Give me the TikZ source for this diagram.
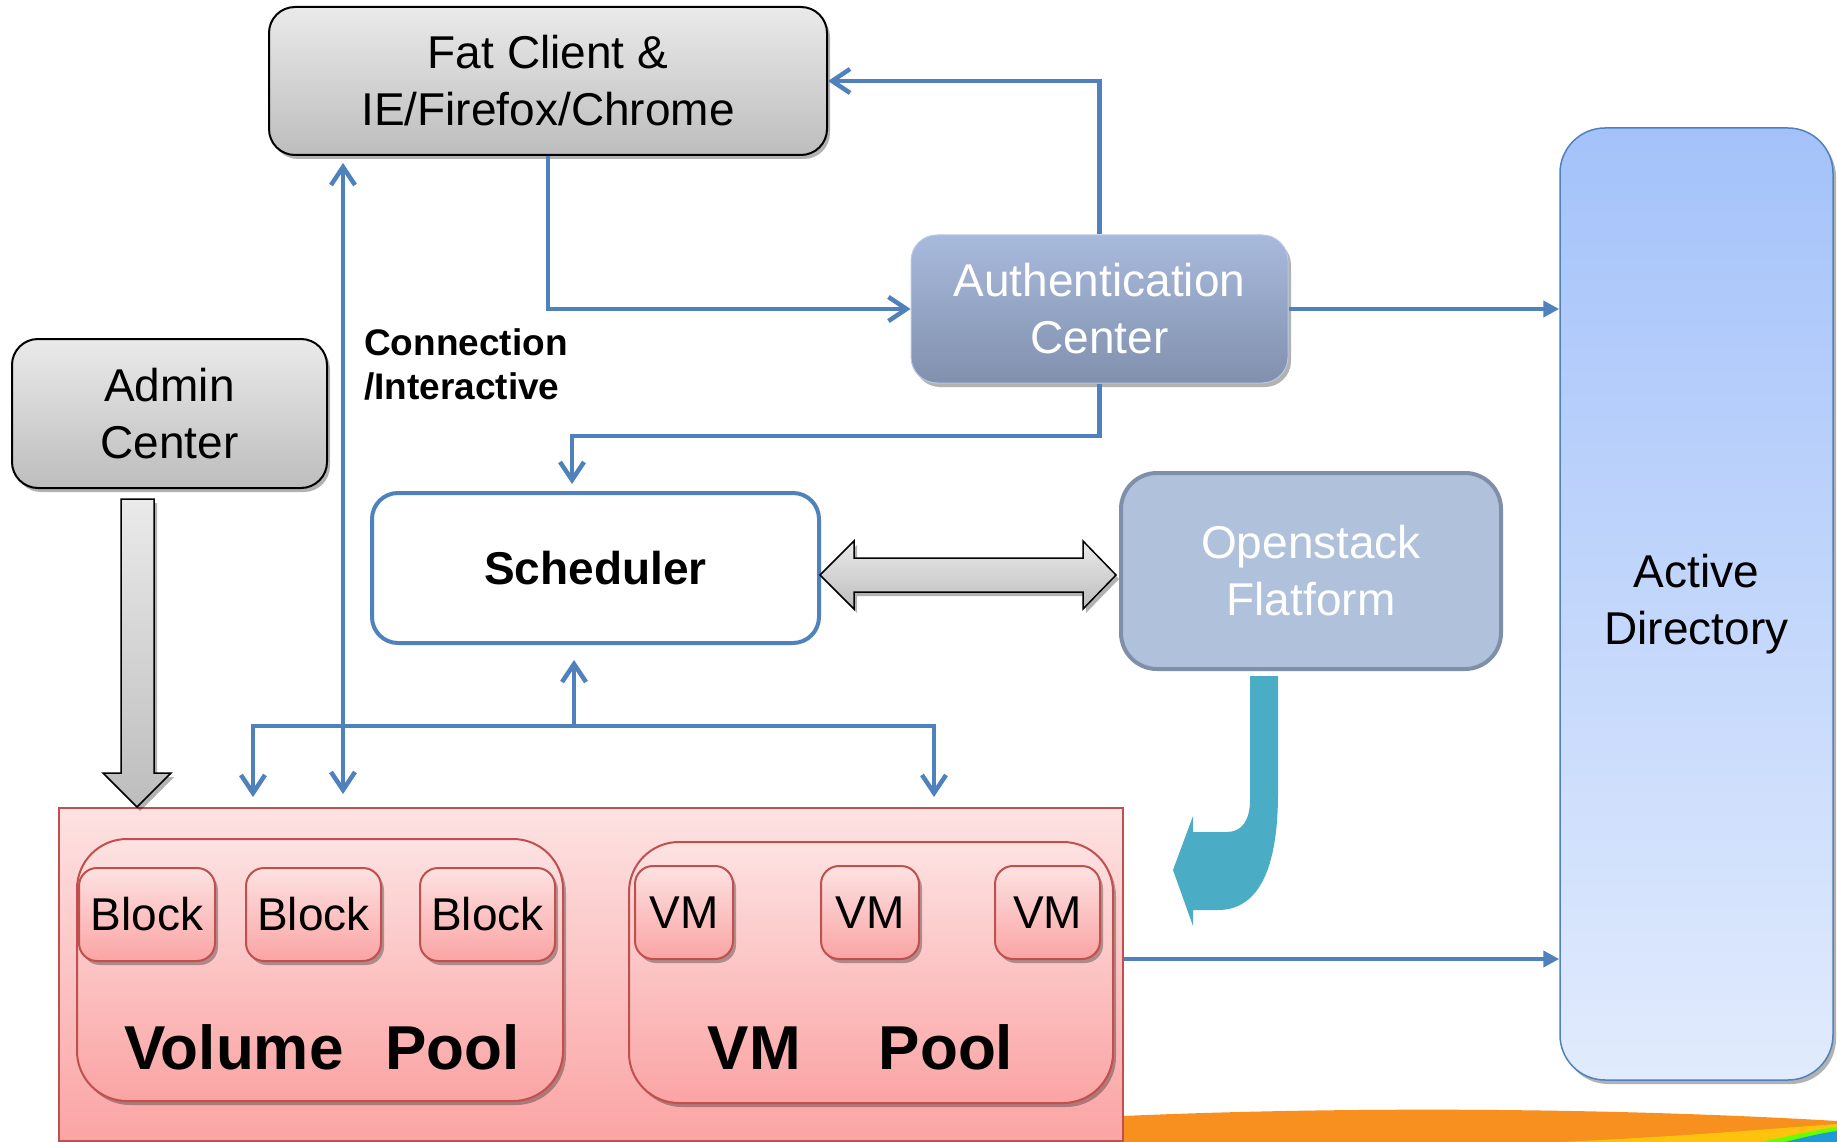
\documentclass[tikz,border=0pt]{standalone}
\usepackage{fontspec}
\setmainfont{Liberation Sans}
\usetikzlibrary{arrows.meta,shadows,calc}
\definecolor{lineblue}{HTML}{4F81BD}
\definecolor{grayT}{HTML}{EAEAEA}
\definecolor{grayB}{HTML}{BDBDBD}
\definecolor{authT}{HTML}{A8BADC}
\definecolor{authB}{HTML}{8190AD}
\definecolor{adT}{HTML}{A4C2FA}
\definecolor{adB}{HTML}{E1EBFD}
\definecolor{openF}{HTML}{B0C1DC}
\definecolor{openD}{HTML}{7F8FA9}
\definecolor{pinkT}{HTML}{FDE2E2}
\definecolor{pinkB}{HTML}{FBA4A4}
\definecolor{redline}{HTML}{C0504D}
\definecolor{teal}{HTML}{4BACC6}
\definecolor{swoosh}{HTML}{F7901E}
\definecolor{swyel}{HTML}{FFC20E}
\definecolor{swblue}{HTML}{1E9BD7}
\tikzset{
  myb/.tip={Straight Barb[length=18pt,width=24pt]},
  myt/.tip={Triangle[length=16pt,width=16pt]},
  txt/.style={font=\fontsize{46}{57}\selectfont, align=center, inner sep=0pt},
  shad/.style={drop shadow={shadow xshift=3pt,shadow yshift=-4pt,fill=black,opacity=0.3}},
  lshad/.style={drop shadow={shadow xshift=2pt,shadow yshift=-3pt,fill=black,opacity=0.15}},
  graybox/.style={txt, rounded corners=26pt, draw=black, line width=2pt, top color=grayT, bottom color=grayB, shad},
  authbox/.style={txt, text=white, rounded corners=26pt, draw=authT!80!white, line width=1pt, top color=authT, bottom color=authB, shad},
  adbox/.style={txt, rounded corners=45pt, draw=lineblue, line width=1.5pt, top color=adT, bottom color=adB, shad},
  schedbox/.style={txt, font=\fontsize{46}{57}\selectfont\bfseries, rounded corners=26pt, draw=lineblue, line width=4pt, fill=white},
  openbox/.style={txt, text=white, rounded corners=36pt, draw=openD, line width=4pt, fill=openF},
  pinkbox/.style={draw=redline, line width=2pt, top color=pinkT, bottom color=pinkB},
  poolbox/.style={rounded corners=50pt, draw=redline, line width=2pt, top color=pinkT, bottom color=pinkB, shad},
  cellbox/.style={txt, rounded corners=18pt, draw=redline, line width=2pt, top color=pinkT, bottom color=pinkB, shad},
  bigtxt/.style={font=\fontsize{62}{70}\selectfont\bfseries, inner sep=0pt, anchor=base},
  lbl/.style={font=\fontsize{37}{44}\selectfont\bfseries, inner sep=0pt, anchor=base west},
  conn/.style={draw=lineblue, line width=4.5pt},
  blockarrow/.style={draw=black, line width=1.5pt, top color=grayT, bottom color=grayB}
}
\begin{document}
\begin{tikzpicture}[x=1pt,y=-1pt]
\useasboundingbox (0,0) rectangle (1837,1142);
\fill[white] (0,0) rectangle (1837,1142);

% bottom swoosh
\fill[swoosh] (1123,1116) .. controls (1350,1106) and (1620,1108) .. (1837,1121) -- (1837,1142) -- (1123,1142) -- cycle;
\fill[swyel] (1560,1142) .. controls (1690,1136) and (1780,1128) .. (1837,1124) -- (1837,1142) -- cycle;
\fill[green!60!yellow] (1760,1142) .. controls (1790,1136) and (1815,1130) .. (1837,1127) -- (1837,1142) -- cycle;
\fill[swblue] (1785,1142) .. controls (1805,1137) and (1822,1133) .. (1837,1131) -- (1837,1142) -- cycle;

% boxes
\node[graybox, minimum width=558pt, minimum height=148pt] (fat) at (548,81) {Fat Client \&\\IE/Firefox/Chrome};
\node[graybox, minimum width=315pt, minimum height=149pt] (admin) at (169.5,413.5) {Admin\\Center};
\node[authbox, minimum width=377pt, minimum height=148pt] (auth) at (1099.5,309) {Authentication\\Center};
\node[adbox, minimum width=273pt, minimum height=952pt] (ad) at (1696.5,604) {Active\\Directory};
\node[schedbox, minimum width=447pt, minimum height=150pt] (sched) at (595.5,568) {Scheduler};
\node[openbox, minimum width=380pt, minimum height=196pt] (open) at (1311,571) {Openstack\\Flatform};

\node[pinkbox, minimum width=1064pt, minimum height=333pt] (pink) at (591,974.5) {};
\node[poolbox, minimum width=486pt, minimum height=262pt] (vpool) at (320,970) {};
\node[poolbox, minimum width=484pt, minimum height=261pt] (vmpool) at (871,972.5) {};

\node[cellbox, minimum width=136pt, minimum height=93pt] (b1) at (147,914.5) {Block};
\node[cellbox, minimum width=135pt, minimum height=93pt] (b2) at (313.5,914.5) {Block};
\node[cellbox, minimum width=135pt, minimum height=93pt] (b3) at (487.5,914.5) {Block};
\node[cellbox, minimum width=98pt, minimum height=93pt] (v1) at (684,912.5) {VM};
\node[cellbox, minimum width=98pt, minimum height=93pt] (v2) at (870,912.5) {VM};
\node[cellbox, minimum width=105pt, minimum height=93pt] (v3) at (1047.5,912.5) {VM};

\node[bigtxt] (vptext) at (322,1069) {Volume\hspace{42pt}Pool};
\node[bigtxt] (vmtext) at (860.5,1069) {VM\hspace{78pt}Pool};

\node[lbl] (l1) at (364,355) {Connection};
\node[lbl] (l2) at (364,399) {/Interactive};

% connectors
\draw[conn,-myb] (fat.south) |- (auth.west);
\draw[conn,-myb] (auth.north) |- (fat.east);
\coordinate (a1) at (1099.5,436);
\coordinate (s1) at (572,436);
\draw[conn,-myb] (auth.south) -- (a1) -- (s1) -- ($(sched.north -| s1)+(0,-7)$);
\draw[conn,-myt] (auth.east) -- (auth.east -| ad.west);
\coordinate (pe) at (pink.east |- 0,959);
\draw[conn,-myt] (pe) -- (pe -| ad.west);
\coordinate (ci) at (343,794);
\draw[conn,myb-myb] ($(ci |- fat.south)+(0,7)$) -- (ci);
\coordinate (j) at (574,726);
\coordinate (jl) at (253,797);
\coordinate (jr) at (934,797);
\draw[conn,-myb] (j) -- ($(sched.south -| j)+(0,15)$);
\draw[conn,myb-myb] (jl) |- (j) -| (jr);

% gray block arrows
\filldraw[blockarrow, shad] (121,499) -- (154,499) -- (154,773) -- (171,773) -- (137,807) -- (103,773) -- (121,773) -- cycle;
\filldraw[blockarrow, shad] (820,575) -- (854,541) -- (854,558) -- (1083,558) -- (1083,541) -- (1116,575) -- (1083,609) -- (1083,592) -- (854,592) -- (854,609) -- cycle;

% teal curved arrow
\fill[teal] (1250,676) -- (1278,676) -- (1278,793)
  .. controls (1278,870) and (1258,910) .. (1218,910)
  -- (1193,910) -- (1193,926) -- (1173,870) -- (1193,816) -- (1193,832) -- (1227,832)
  .. controls (1242,832) and (1250,820) .. (1250,800) -- cycle;
\end{tikzpicture}
\end{document}
